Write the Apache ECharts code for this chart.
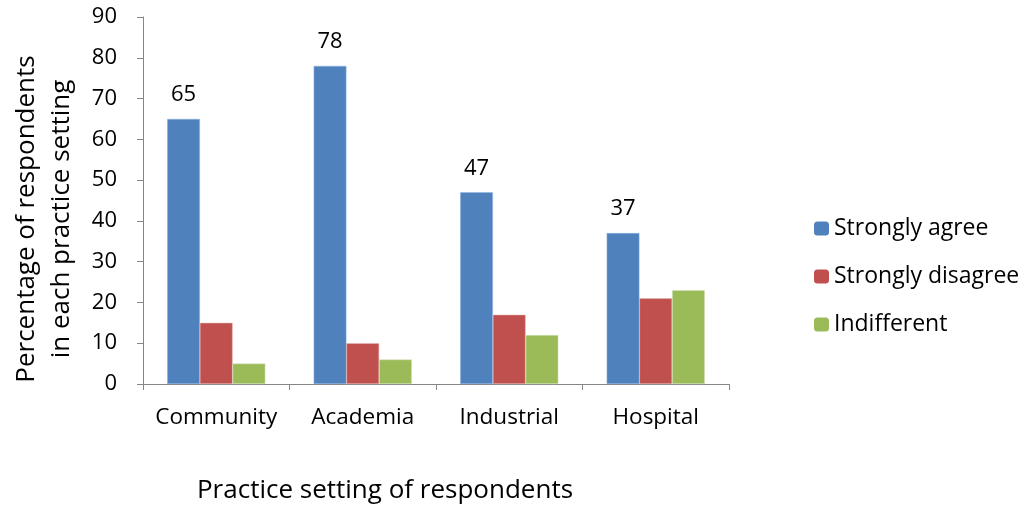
<!DOCTYPE html>
<html><head><meta charset="utf-8">
<script src="https://cdn.jsdelivr.net/npm/echarts@6/dist/echarts.min.js"></script>
<style>html,body{margin:0;padding:0;background:#fff}#c{width:1022px;height:508px}</style>
</head><body><div id="c"></div>
<script>
var categories = ['Community', 'Academia', 'Industrial', 'Hospital'];
var stronglyAgree = [65, 78, 47, 37];
var stronglyDisagree = [15, 10, 17, 21];
var indifferent = [5, 6, 12, 23];
var yTicks = [0, 10, 20, 30, 40, 50, 60, 70, 80, 90];

var FONT = 'Open Sans';
var chart = echarts.init(document.getElementById('c'));
chart.setOption({
  animation: false,
  textStyle: {fontFamily: FONT, color: '#000'},
  grid: {left: 143, right: 293, top: 17, bottom: 124},
  legend: {
    orient: 'vertical', left: 809, top: 212,
    itemWidth: 15, itemHeight: 14, itemGap: 25,
    itemStyle: {borderWidth: 0},
    textStyle: {fontFamily: FONT, fontSize: 23, lineHeight: 20, color: '#000'},
    data: ['Strongly agree', 'Strongly disagree', 'Indifferent']
  },
  xAxis: {
    type: 'category', data: categories,
    axisLine: {lineStyle: {color: '#868686', width: 1}},
    axisTick: {show: true, length: 6, lineStyle: {color: '#868686'}},
    axisLabel: {fontFamily: FONT, fontSize: 22.5, color: '#000', margin: 22, interval: 0}
  },
  yAxis: {
    type: 'value', min: yTicks[0], max: yTicks[yTicks.length - 1], interval: 10,
    axisLine: {show: true, lineStyle: {color: '#868686', width: 1}},
    axisTick: {show: true, length: 6, lineStyle: {color: '#868686'}},
    splitLine: {show: false},
    axisLabel: {fontFamily: FONT, fontSize: 22, color: '#000', margin: 26}
  },
  graphic: [
    {type: 'text', x: 44, y: 219, rotation: Math.PI / 2,
     style: {text: 'Percentage of respondents\nin each practice setting', font: '26px ' + FONT,
             fill: '#000', textAlign: 'center', textVerticalAlign: 'middle', lineHeight: 35}},
    {type: 'text', x: 385, y: 491,
     style: {text: 'Practice setting of respondents', font: '26px ' + FONT,
             fill: '#000', textAlign: 'center', textVerticalAlign: 'middle'}}
  ],
  series: [
    {name: 'Strongly agree', type: 'bar', data: stronglyAgree, barCategoryGap: '33%', barGap: '0%',
     itemStyle: {color: '#4F81BD', borderColor: '#8EB4E3', borderWidth: 0.5},
     label: {show: true, position: 'top', distance: 13, fontFamily: FONT, fontSize: 22, color: '#000'}},
    {name: 'Strongly disagree', type: 'bar', data: stronglyDisagree, barGap: '0%',
     itemStyle: {color: '#C0504D', borderColor: '#E6B9B8', borderWidth: 0.5}},
    {name: 'Indifferent', type: 'bar', data: indifferent, barGap: '0%',
     itemStyle: {color: '#9BBB59', borderColor: '#D7E4BD', borderWidth: 0.5}}
  ]
});
</script></body></html>
